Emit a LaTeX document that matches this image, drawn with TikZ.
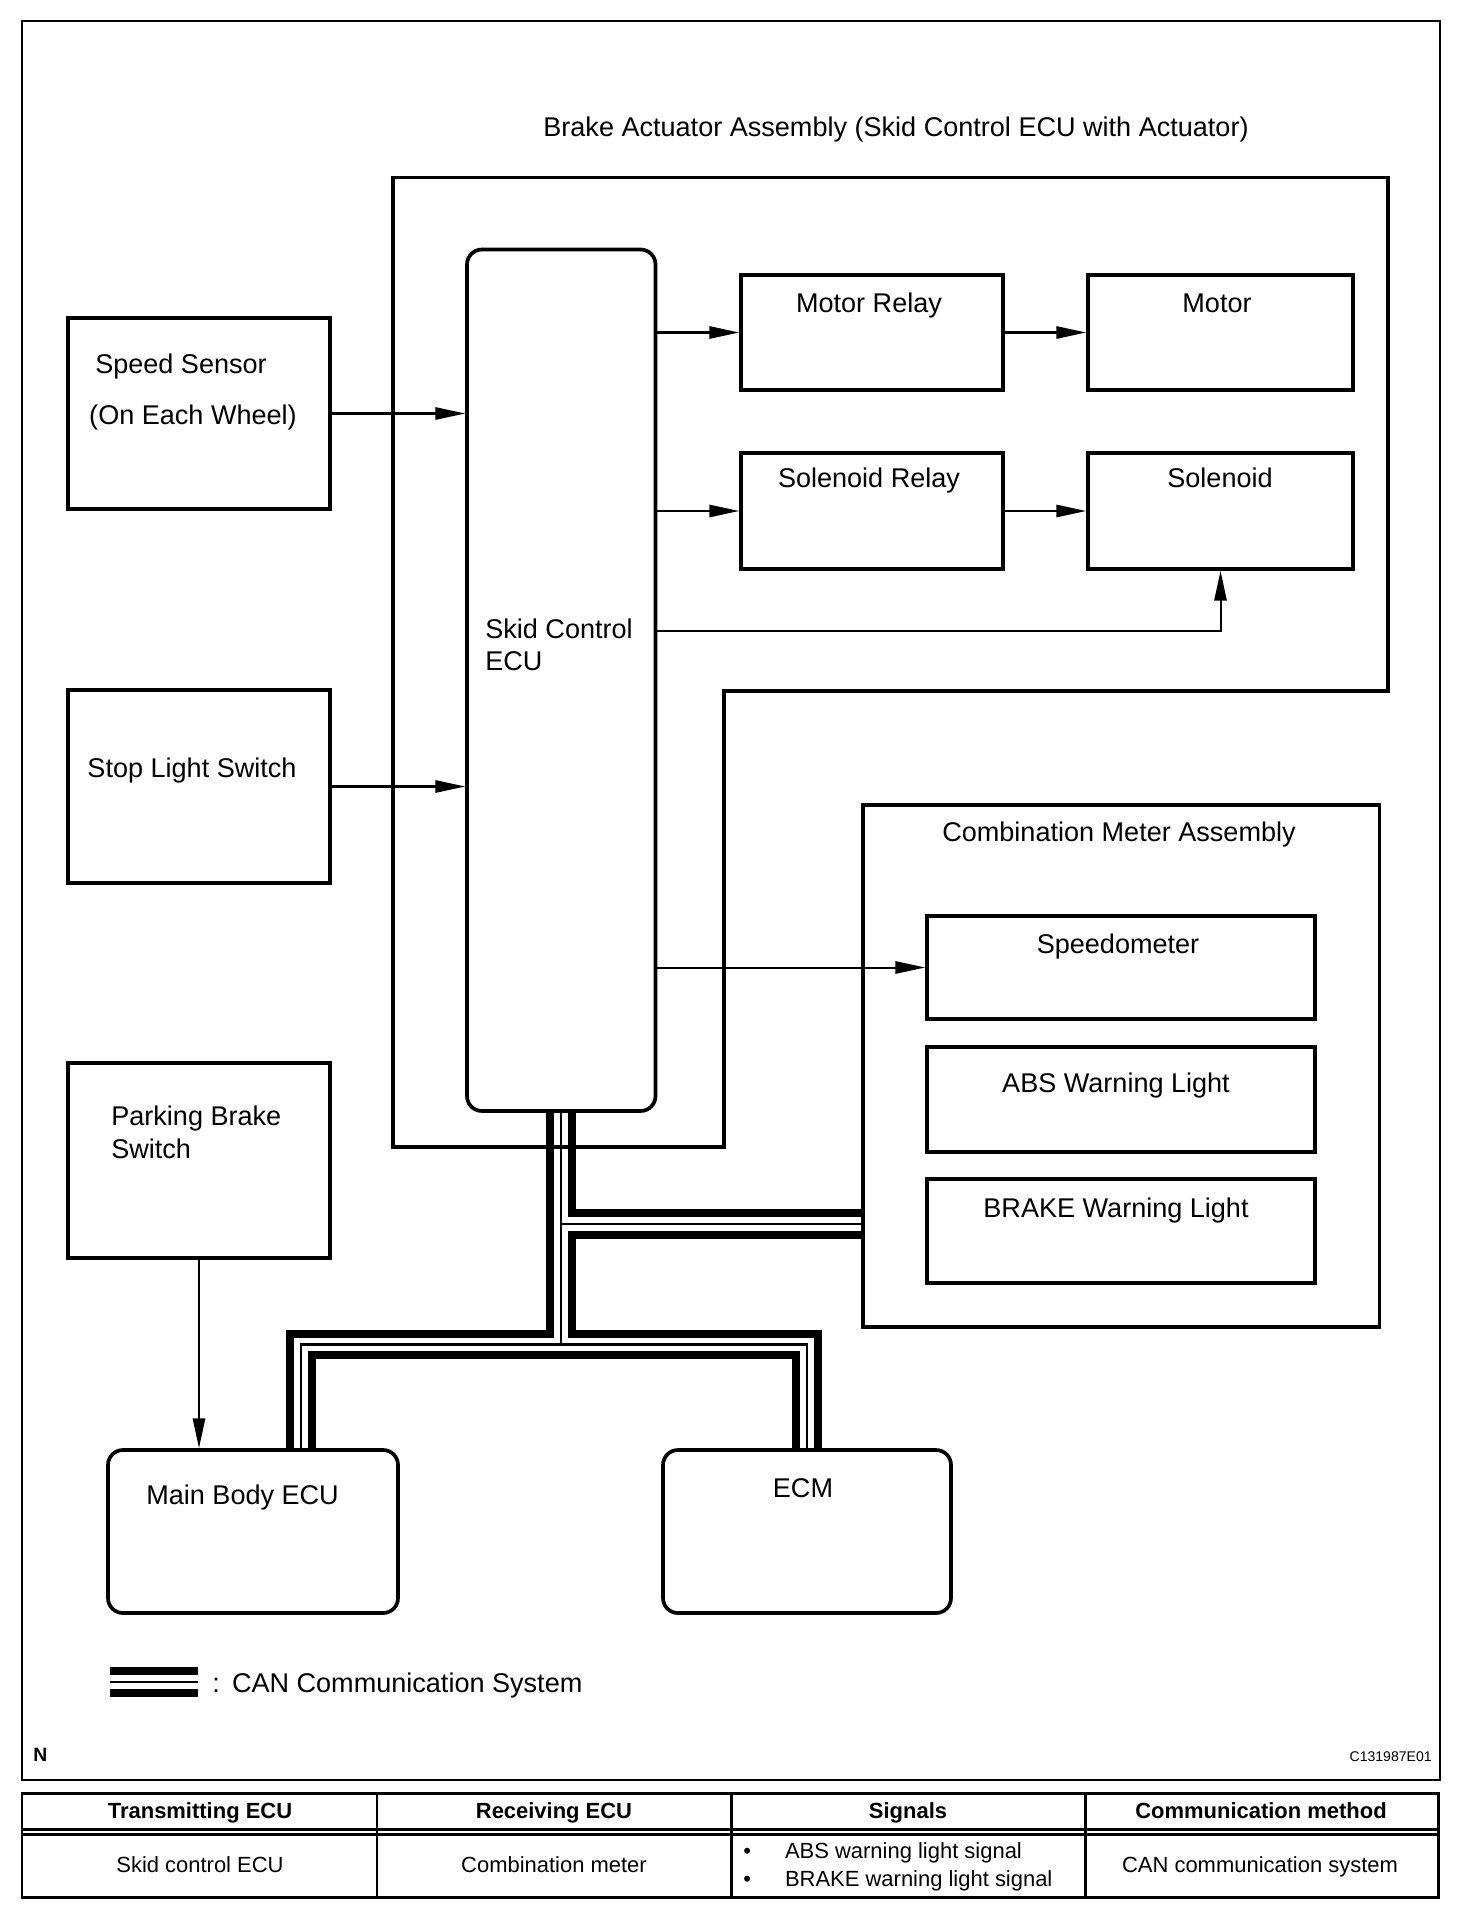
\documentclass[tikz,border=0pt]{standalone}
\usepackage{fontspec}
\setmainfont{Liberation Sans}
\usetikzlibrary{arrows.meta, fit, backgrounds, positioning}

\begin{document}
\begin{tikzpicture}[x=0.02cm, y=-0.02cm,
    box/.style={draw, line width=2.1pt, inner sep=0pt},
    ecu/.style={box, rounded corners=8.5pt},
    lbl/.style={font=\fontsize{15.4pt}{18pt}\selectfont, inner sep=0pt},
    sig/.style={line width=1.15pt, -{Triangle[length=17pt, width=7pt]}},
    tbl/.style={font=\fontsize{12.5pt}{15pt}\selectfont, inner sep=0pt, anchor=base},
    thd/.style={tbl, font=\bfseries\fontsize{12.5pt}{15pt}\selectfont}]
    \useasboundingbox (0,0) rectangle (1472,1910);
    % Outer frame
    \draw[line width=1.5pt] (22,21) rectangle (1440,1780);

    % Brake actuator assembly
    \node[lbl, anchor=base] (bact-t) at (896,136) {Brake Actuator Assembly (Skid Control ECU with Actuator)};
    \draw[line width=2pt] (393,177.5) -- (1388,177.5) -- (1388,691) -- (724,691) -- (724,1147) -- (393,1147) -- cycle;
    \node[ecu, fit={(467,249.5) (655.5,1111)}] (skid) {};
    \node[lbl, anchor=base west] (skid-t1) at (485,638) {Skid Control};
    \node[lbl, anchor=base west] (skid-t2) at (485,670) {ECU};
    \node[box, fit={(741,275) (1003,390)}] (mrel) {};
    \node[lbl, anchor=base] (mrel-t) at (869,312) {Motor Relay};
    \node[box, fit={(1088,275) (1353,390)}] (motor) {};
    \node[lbl, anchor=base] (motor-t) at (1217,312) {Motor};
    \node[box, fit={(741,453) (1003,569)}] (srel) {};
    \node[lbl, anchor=base] (srel-t) at (869,487) {Solenoid Relay};
    \node[box, fit={(1088,453) (1353,569)}] (sol) {};
    \node[lbl, anchor=base] (sol-t) at (1220,487) {Solenoid};

    % Inputs
    \node[box, fit={(68,318) (330,509)}] (spd) {};
    \node[lbl, anchor=base] (spd-t1) at (181,373) {Speed Sensor};
    \node[lbl, anchor=base] (spd-t2) at (193,424) {(On Each Wheel)};
    \node[box, fit={(68,690) (330,883)}] (stop) {};
    \node[lbl, anchor=base] (stop-t) at (192,777) {Stop Light Switch};
    \node[box, fit={(68,1063) (330,1258)}] (park) {};
    \node[lbl, anchor=base west] (park-t1) at (111,1125) {Parking Brake};
    \node[lbl, anchor=base west] (park-t2) at (111,1158) {Switch};

    % Combination meter assembly
    \node[box, line width=2pt, fit={(863,805) (1379.5,1327)}] (cmb) {};
    \node[lbl, anchor=base] (cmb-t) at (1119,841) {Combination Meter Assembly};
    \node[box, fit={(927,916) (1315,1019)}] (spdo) {};
    \node[lbl, anchor=base] (spdo-t) at (1118,953) {Speedometer};
    \node[box, fit={(927,1047) (1315,1152)}] (abs) {};
    \node[lbl, anchor=base] (abs-t) at (1116,1092) {ABS Warning Light};
    \node[box, fit={(927,1179) (1315,1283)}] (brk) {};
    \node[lbl, anchor=base] (brk-t) at (1116,1217) {BRAKE Warning Light};

    % Other ECUs
    \node[ecu, fit={(108,1450) (398,1613)}] (mbe) {};
    \node[lbl, anchor=base west] (mbe-t) at (146,1504) {Main Body ECU};
    \node[ecu, fit={(663,1450) (951,1613)}] (ecm) {};
    \node[lbl, anchor=base] (ecm-t) at (803,1497) {ECM};

    % Signal lines
    \coordinate (solfb) at (1220,631);
    \draw[sig] (spd.east) -- (spd.east -| skid.west);
    \draw[sig] (stop.east) -- (stop.east -| skid.west);
    \draw[sig] (skid.east |- mrel.west) -- (mrel.west);
    \draw[sig] (mrel.east) -- (motor.west);
    \draw[sig] (skid.east |- srel.west) -- (srel.west);
    \draw[sig] (srel.east) -- (sol.west);
    \draw[sig] (skid.east |- solfb) -| (sol.south);
    \draw[sig] (skid.east |- spdo.west) -- (spdo.west);
    \draw[sig] (park.south) -- (park.south |- mbe.north);

    % CAN bus and legend
    \coordinate (canL) at (301,1344.5);
    \coordinate (canR) at (ecm.north |- canL);
    \coordinate (cany) at (0,1224);
    \coordinate (legA) at (109.5,1682);
    \coordinate (legB) at (198,1682);
    \begin{pgfonlayer}{background}
    \foreach \w/\c in {17pt/black, 7.9pt/white, 1.4pt/black}{
        \draw[line width=\w, draw=\c, line join=miter] (mbe.north -| canL) -- (canL) -- (canR) -- (ecm.north);
        \draw[line width=\w, draw=\c] (skid.south) -- (skid.south |- canL);
        \draw[line width=\w, draw=\c] (skid.south |- cany) -- (cmb.west |- cany);
        \draw[line width=\w, draw=\c] (legA) -- (legB);
    }
    \end{pgfonlayer}
    \node[lbl, anchor=base west] (leg-t) at (212,1692) {:\hspace{0.45em}CAN Communication System};

    \node[font=\bfseries\fontsize{11pt}{13pt}\selectfont, anchor=base west, inner sep=0pt] (ncode) at (33,1761) {N};
    \node[font=\fontsize{8pt}{10pt}\selectfont, anchor=base east, inner sep=0pt] (figid) at (1432,1761) {C131987E01};

    % Table
    \draw[line width=1.7pt] (22,1793) rectangle (1438,1897);
    \draw[line width=1.4pt] (22,1829.5) -- (1438,1829.5) (22,1834.5) -- (1438,1834.5);
    \foreach \x in {377,731,1085} \draw[line width=1.7pt] (\x,1793) -- (\x,1897);
    \node[thd] (th1) at (200,1818) {Transmitting ECU};
    \node[thd] (th2) at (554,1818) {Receiving ECU};
    \node[thd] (th3) at (908,1818) {Signals};
    \node[thd] (th4) at (1261,1818) {Communication method};
    \node[tbl] (td1) at (200,1872) {Skid control ECU};
    \node[tbl] (td2) at (554,1872) {Combination meter};
    \node[tbl, anchor=base west] (td3a) at (743,1858) {\textbullet\hspace{1.55em}ABS warning light signal};
    \node[tbl, anchor=base west] (td3b) at (743,1886) {\textbullet\hspace{1.55em}BRAKE warning light signal};
    \node[tbl] (td4) at (1260,1872) {CAN communication system};
\end{tikzpicture}
\end{document}
